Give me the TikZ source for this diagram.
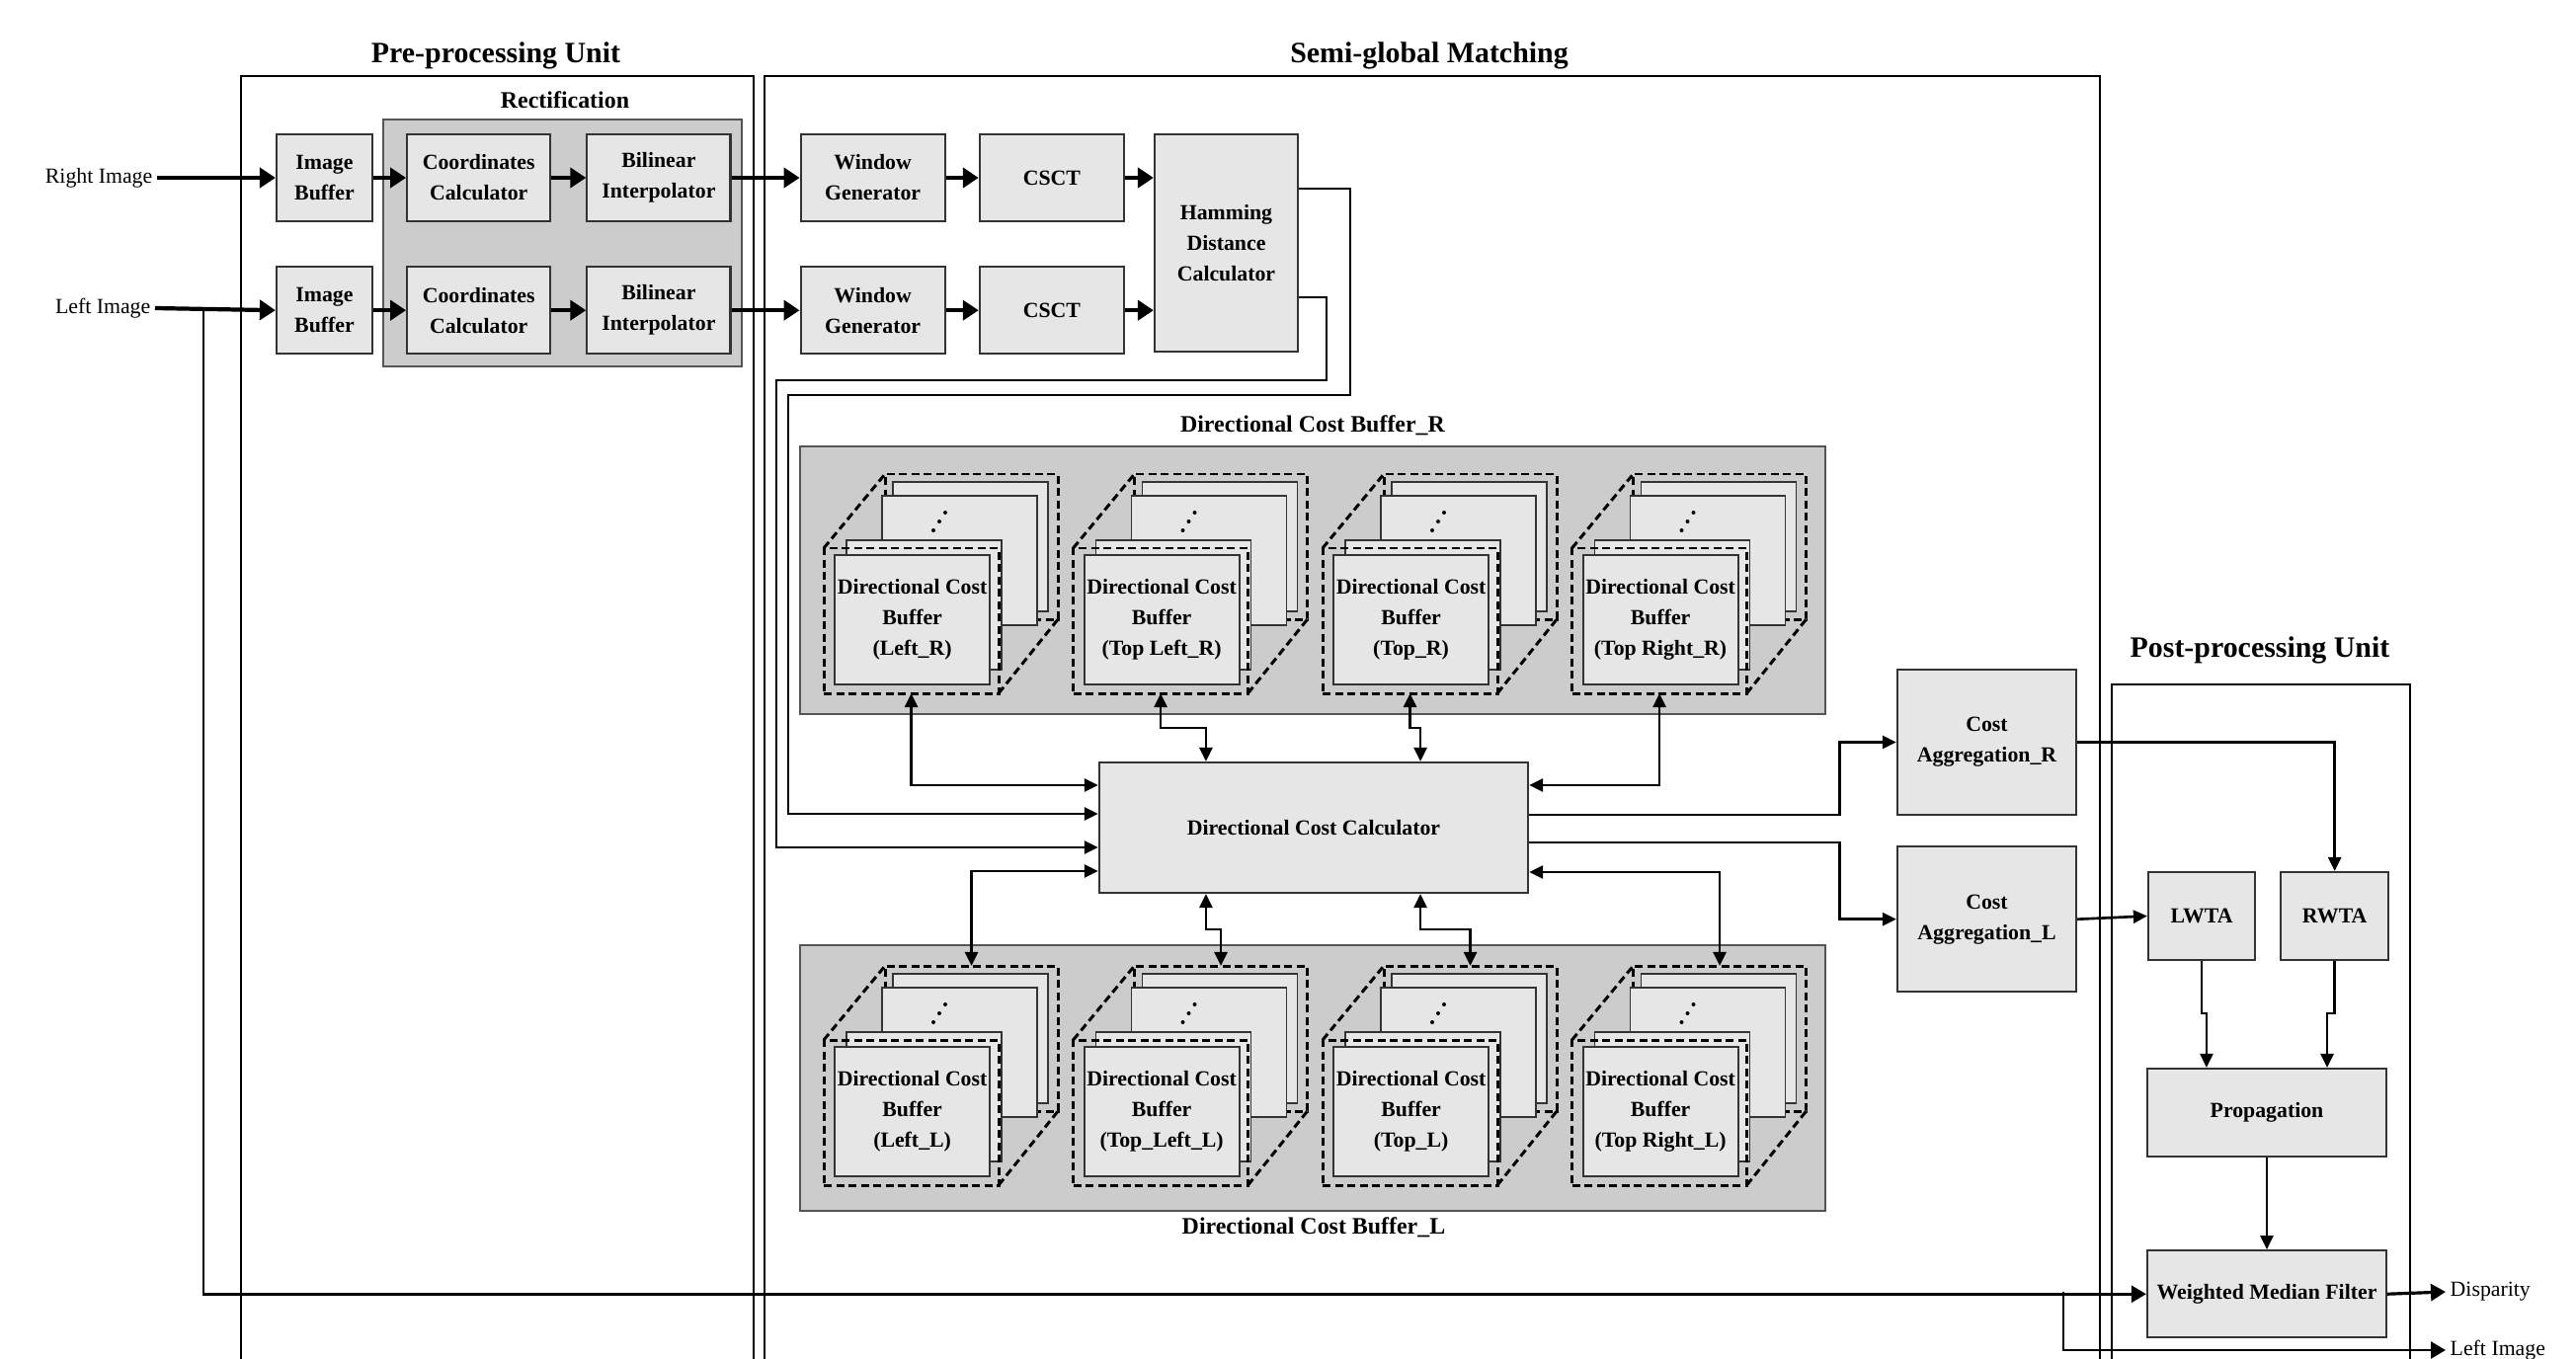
\documentclass[tikz,border=0pt]{standalone}
\usepackage{fontspec}
\setmainfont{Liberation Serif}
\usetikzlibrary{arrows.meta, positioning, calc}
\definecolor{boxfill}{HTML}{E6E6E6}
\definecolor{grpfill}{HTML}{CCCCCC}
\definecolor{edge}{HTML}{333333}
\definecolor{grpedge}{HTML}{555555}

\begin{document}
\begin{tikzpicture}[
  x=0.01cm, y=-0.01cm,
  box/.style={rectangle,draw=edge,fill=boxfill,line width=0.6pt,font=\fontsize{6.2}{8.8}\selectfont\bfseries,align=center,inner sep=0pt},
  grp/.style={rectangle,draw=grpedge,fill=grpfill,line width=0.6pt,inner sep=0pt},
  unit/.style={draw=black,line width=0.5pt},
  title/.style={font=\fontsize{8.5}{10}\selectfont\bfseries},
  glabel/.style={font=\fontsize{6.8}{8}\selectfont\bfseries},
  io/.style={font=\fontsize{6.2}{8}\selectfont,inner sep=0.04cm},
  page/.style={draw=edge,fill=boxfill,line width=0.5pt},
  dsh/.style={draw=black,line width=0.85pt,dash pattern=on 0.08cm off 0.045cm},
  tarr/.style={-{Triangle[length=0.16cm,width=0.2cm]},line width=1.2pt},
  oarr/.style={-{Triangle[length=0.15cm,width=0.17cm]},line width=0.9pt},
  carr/.style={-{Triangle[length=0.14cm,width=0.13cm]},line width=0.75pt},
  barr/.style={{Triangle[length=0.14cm,width=0.13cm]}-{Triangle[length=0.14cm,width=0.13cm]},line width=0.75pt}
]
\useasboundingbox (0,0) rectangle (2608,1376);
\clip (0,0) rectangle (2608,1376);

% units
\draw[unit] (244,77) rectangle (763,1420);
\draw[unit] (774,77) rectangle (2126,1420);
\draw[unit] (2138,693) rectangle (2440,1420);
\node[title] (pretitle) at (502,56) {Pre-processing Unit};
\node[title] (sgmtitle) at (1447,56) {Semi-global Matching};
\node[title] (posttitle) at (2288,658) {Post-processing Unit};

% grey groups
\node[grp, minimum width=3.63cm, minimum height=2.5cm] (rect) at (569.5,246) {};
\node[glabel] (recttitle) at (572,101) {Rectification};
\node[grp, minimum width=10.38cm, minimum height=2.71cm] (dcr) at (1329,587.5) {};
\node[glabel] (dcrtitle) at (1329,431) {Directional Cost Buffer\_R};
\node[grp, minimum width=10.38cm, minimum height=2.69cm] (dcl) at (1329,1091.5) {};
\node[glabel] (dcltitle) at (1330,1243) {Directional Cost Buffer\_L};

% inputs
\node[io, anchor=east] (rin) at (159,180) {Right Image};
\node[io, anchor=east] (lin) at (157,312) {Left Image};

% pre-processing and census rows
\node[box, minimum width=0.97cm, minimum height=0.88cm] (ibr) at (328.5,180) {Image\\Buffer};
\node[box, minimum width=1.45cm, minimum height=0.88cm, right=0.33cm of ibr] (ccr) {Coordinates\\Calculator};
\node[box, minimum width=1.45cm, minimum height=0.88cm, right=0.35cm of ccr] (bir) {Bilinear\\Interpolator};
\node[box, minimum width=1.46cm, minimum height=0.88cm, right=0.69cm of bir] (wgr) {Window\\Generator};
\node[box, minimum width=1.46cm, minimum height=0.88cm, right=0.33cm of wgr] (csr) {CSCT};
\node[box, minimum width=0.97cm, minimum height=0.88cm, below=0.44cm of ibr] (ibl) {Image\\Buffer};
\node[box, minimum width=1.45cm, minimum height=0.88cm, below=0.44cm of ccr] (ccl) {Coordinates\\Calculator};
\node[box, minimum width=1.45cm, minimum height=0.88cm, below=0.44cm of bir] (bil) {Bilinear\\Interpolator};
\node[box, minimum width=1.46cm, minimum height=0.88cm, below=0.44cm of wgr] (wgl) {Window\\Generator};
\node[box, minimum width=1.46cm, minimum height=0.88cm, below=0.44cm of csr] (csl) {CSCT};
\node[box, minimum width=1.45cm, minimum height=2.2cm] (hdc) at (1241.5,246) {Hamming\\Distance\\Calculator};

% directional cost buffers
\foreach \nm/\ox/\oy/\lbl in {r1/834/555/{Left\_R}, r2/1086.5/555/{Top Left\_R}, r3/1339/555/{Top\_R}, r4/1591.5/555/{Top Right\_R},
                              l1/834/1053/{Left\_L}, l2/1086.5/1053/{Top\_Left\_L}, l3/1339/1053/{Top\_L}, l4/1591.5/1053/{Top Right\_L}}{
  \node[dsh, minimum width=1.75cm, minimum height=1.47cm, inner sep=0pt, outer sep=0pt, anchor=north west] (\nm-bk) at (\ox+62,\oy-75) {};
  \draw[dsh] (\ox,\oy) -- (\nm-bk.north west) (\ox+177,\oy+147) -- (\nm-bk.south east);
  \draw[page] (\ox+70,\oy-67) rectangle ++(157,131);
  \draw[page] (\ox+59,\oy-53) rectangle ++(157,131);
  \fill (\ox+111,\oy-18) circle (0.02cm) (\ox+117,\oy-27) circle (0.02cm) (\ox+123,\oy-36) circle (0.02cm);
  \draw[page] (\ox+23,\oy-8) rectangle ++(157,131);
  \node[dsh, minimum width=1.77cm, minimum height=1.47cm, inner sep=0pt, outer sep=0pt, anchor=north west] (\nm) at (\ox,\oy) {};
  \node[box, minimum width=1.57cm, minimum height=1.31cm, anchor=north west] (\nm-pg) at (\ox+10,\oy+6) {Directional Cost\\Buffer\\(\lbl)};
}

\node[box, minimum width=4.34cm, minimum height=1.32cm] (dcc) at (1330,838) {Directional Cost Calculator};

% cost aggregation and post-processing
\node[box, minimum width=1.81cm, minimum height=1.47cm] (car) at (2011.5,751.5) {Cost\\Aggregation\_R};
\node[box, minimum width=1.81cm, minimum height=1.47cm, below=0.30cm of car] (cal) {Cost\\Aggregation\_L};
\node[box, minimum width=1.08cm, minimum height=0.89cm] (lwta) at (2229,927.5) {LWTA};
\node[box, minimum width=1.09cm, minimum height=0.89cm, right=0.24cm of lwta] (rwta) {RWTA};
\node[box, minimum width=2.42cm, minimum height=0.89cm] (prop) at (2295,1126.5) {Propagation};
\node[box, minimum width=2.42cm, minimum height=0.88cm, below=0.93cm of prop] (wmf) {Weighted Median Filter};
\node[io, anchor=west] (disp) at (2476,1308) {Disparity};
\node[io, anchor=west] (lout) at (2476,1367) {Left Image};

% data path
\draw[tarr] (rin.east) -- (ibr.west);
\draw[tarr] (ibr) -- (ccr);
\draw[tarr] (ccr) -- (bir);
\draw[tarr] (bir) -- (wgr);
\draw[tarr] (wgr) -- (csr);
\draw[tarr] (csr.east) -- (csr.east -| hdc.west);
\draw[tarr] (lin.east) -- (ibl.west);
\draw[tarr] (ibl) -- (ccl);
\draw[tarr] (ccl) -- (bil);
\draw[tarr] (bil) -- (wgl);
\draw[tarr] (wgl) -- (csl);
\draw[tarr] (csl.east) -- (csl.east -| hdc.west);

\draw[carr] ([yshift=0.55cm]hdc.east) -- ++(52,0) |- (798,400) |- ([yshift=0.14cm]dcc.west);
\draw[carr] ([yshift=-0.55cm]hdc.east) -- ++(28,0) |- (786,385) |- ([yshift=-0.20cm]dcc.west);

\draw[barr] (r1.south) |- ([yshift=0.43cm]dcc.west);
\draw[barr] (r2.south) -- ++(0,35) -| ([xshift=-1.09cm]dcc.north);
\draw[barr] (r3.south) -- ++(0,35) -| ([xshift=1.08cm]dcc.north);
\draw[barr] (r4.south) |- ([yshift=0.43cm]dcc.east);
\draw[barr] (l1-bk.north) |- ([yshift=-0.44cm]dcc.west);
\draw[barr] (l2-bk.north) -- ++(0,-37) -| ([xshift=-1.09cm]dcc.south);
\draw[barr] (l3-bk.north) -- ++(0,-37) -| ([xshift=1.08cm]dcc.south);
\draw[barr] (l4-bk.north) |- ([yshift=-0.45cm]dcc.east);

\draw[carr] ([yshift=0.13cm]dcc.east) -- ++(314,0) |- (car.west);
\draw[carr] ([yshift=-0.15cm]dcc.east) -- ++(314,0) |- (cal.west);
\draw[carr] (car.east) -| (rwta.north);
\draw[carr] (cal.east) -- (lwta.west);
\draw[carr] (lwta.south) -- ++(0,53) -| ([xshift=-0.61cm]prop.north);
\draw[carr] (rwta.south) -- ++(0,53) -| ([xshift=0.61cm]prop.north);
\draw[carr] (prop.south) -- (wmf.north);

\coordinate (lsplit) at (206,312);
\coordinate (wsplit) at (2089,1308);
\draw[oarr, line width=0.75pt] (lsplit) |- (wmf.west);
\draw[oarr, line width=0.75pt] (wsplit) |- (lout.west);
\draw[oarr] (wmf.east) -- (disp.west);
\end{tikzpicture}
\end{document}
